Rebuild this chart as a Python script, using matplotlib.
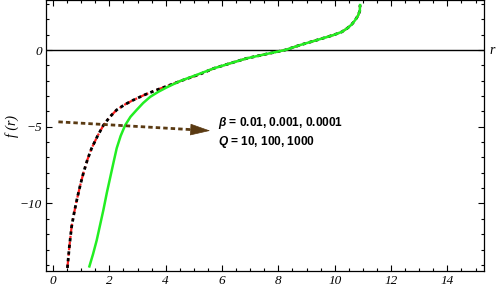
import numpy as np
import matplotlib.pyplot as plt
from matplotlib.ticker import MultipleLocator

plt.rcParams['font.family'] = 'Liberation Serif'
plt.rcParams['font.style'] = 'italic'
plt.rcParams['mathtext.fontset'] = 'custom'
plt.rcParams['mathtext.it'] = 'Liberation Sans:italic:bold'
plt.rcParams['mathtext.rm'] = 'Liberation Sans:bold'

# Data
r_green = [1.29, 1.42, 1.55, 1.67, 1.79, 1.91, 2.03, 2.15, 2.26, 2.40, 2.56,
           2.75, 2.97, 3.20, 3.45, 3.74, 4.04, 4.51, 5.10, 5.70, 6.30, 6.88,
           7.55, 8.24, 8.78, 9.37, 9.96, 10.25, 10.44, 10.60, 10.73, 10.83,
           10.89, 10.90]
f_green = [-14.1, -13.3, -12.4, -11.4, -10.4, -9.3, -8.3, -7.3, -6.4, -5.6, -4.9,
           -4.35, -3.9, -3.45, -3.05, -2.72, -2.43, -2.02, -1.62, -1.2, -0.86, -0.54,
           -0.27, 0.0, 0.33, 0.65, 0.98, 1.18, 1.41, 1.66, 1.96, 2.25,
           2.55, 2.93]

r_red = [0.51, 0.58, 0.66, 0.75, 0.84, 0.96, 1.08, 1.22, 1.37, 1.58, 1.79,
         2.02, 2.26, 2.55, 2.85, 3.25, 3.68, 4.15, 4.63, 5.22, 5.70, 6.30,
         6.88, 7.55, 8.24, 8.78, 9.37, 9.96, 10.25, 10.44, 10.60, 10.73,
         10.83, 10.89, 10.90]
f_red = [-14.2, -12.8, -11.5, -10.6, -9.8, -8.85, -8.0, -7.15, -6.4, -5.6, -4.9,
         -4.35, -3.9, -3.55, -3.26, -2.92, -2.6, -2.28, -1.95, -1.57, -1.2, -0.86,
         -0.54, -0.27, 0.0, 0.33, 0.65, 0.98, 1.18, 1.41, 1.66, 1.96,
         2.25, 2.55, 2.93]

r_black = r_red
f_black = f_red

x_ticks = [0, 2, 4, 6, 8, 10, 12, 14]
y_ticks = [-10, -5, 0]

arrow_start = (0.19, -4.68)
arrow_end = (5.58, -5.26)

fig = plt.figure(figsize=(4.98, 2.90), dpi=100)
ax = fig.add_axes([46 / 498, 19 / 290, 438 / 498, 271 / 290])

ax.axhline(0, color='black', lw=1.0, zorder=1)
ax.plot(r_red, f_red, color='#ff2020', lw=1.6, ls=(0, (4, 1.5, 1, 1.5)), zorder=2)
ax.plot(r_black, f_black, color='black', lw=2.0, ls=(0, (1.2, 1.2)), zorder=3)
ax.plot(r_green, f_green, color='#22ee22', lw=1.8, zorder=4)

# dashed shaft, then a solid head at its end
ax.plot([arrow_start[0], arrow_end[0] - 0.55],
        [arrow_start[1], arrow_end[1] + 0.06],
        color='#5a3a12', lw=2.0, ls=(0, (1.6, 1.1)), zorder=5)
ax.annotate('', xy=arrow_end, xytext=(arrow_end[0] - 0.7, arrow_end[1] + 0.075),
            arrowprops=dict(arrowstyle='-|>,head_length=1.1,head_width=0.32',
                            color='#5a3a12', lw=0.5,
                            mutation_scale=12, shrinkA=0, shrinkB=0),
            zorder=5)

txt_kw = dict(fontsize=8.6, fontweight='bold', family='Liberation Sans',
              style='normal', va='center', ha='left', color='black')
ax.text(5.84, -4.76, r'$\beta$ = 0.01, 0.001, 0.0001', **txt_kw)
ax.text(5.84, -6.0, r'$Q$ = 10, 100, 1000', **txt_kw)

ax.set_xlim(-0.25, 15.3)
ax.set_ylim(-14.4, 3.26)
ax.set_xticks(x_ticks)
ax.set_xticklabels([str(v) for v in x_ticks], fontstyle='italic',
                   family='Liberation Serif')
ax.set_yticks(y_ticks)
ax.set_yticklabels(['\u2212' + str(-v) if v < 0 else str(v) for v in y_ticks],
                   fontstyle='italic', family='Liberation Serif')
ax.xaxis.set_minor_locator(MultipleLocator(0.5))
ax.yaxis.set_minor_locator(MultipleLocator(1))
ax.tick_params(which='both', direction='in', top=True, right=True,
               width=0.8, colors='black', labelsize=9.5, pad=3)
ax.tick_params(which='major', length=4)
ax.tick_params(which='minor', length=2.5)
for s in ax.spines.values():
    s.set_linewidth(0.9)

fig.text(12 / 498, 1 - 126 / 290, 'f (r)', fontsize=10, rotation=90,
         ha='center', va='center', style='italic')
fig.text(492 / 498, 1 - 50 / 290, 'r', fontsize=10, ha='center', va='center',
         style='italic')

fig.savefig('out.png', dpi=100)
